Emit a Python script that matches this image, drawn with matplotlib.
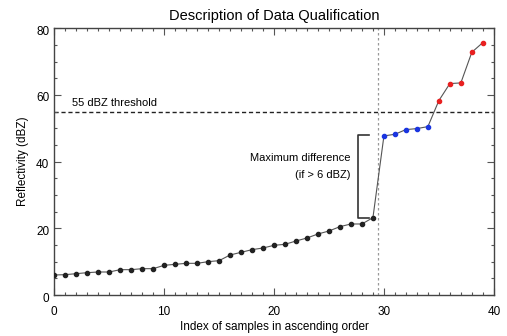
import matplotlib
matplotlib.use("Agg")
import matplotlib.pyplot as plt
import matplotlib.transforms as mtransforms
from matplotlib.ticker import MultipleLocator

plt.rcParams['font.family'] = ['Liberation Sans', 'DejaVu Sans']

# =========================
# data
# =========================
refl = [6.0, 6.1, 6.4, 6.7, 6.9, 6.9, 7.6, 7.6, 7.9, 7.9,
        8.9, 9.2, 9.5, 9.5, 10.0, 10.3, 12.0, 12.8, 13.6, 14.1,
        14.9, 15.2, 16.2, 17.1, 18.3, 19.2, 20.5, 21.3, 21.3, 23.2,
        47.7, 48.2, 49.6, 49.9, 50.5,
        58.3, 63.4, 63.6, 72.8, 75.7]
idx = list(range(len(refl)))
low_idx = idx[:30]
mid_idx = idx[30:35]
high_idx = idx[35:]
threshold = 55
split_x = 29.5
bracket_x = 27.6
bracket_top = 47.9
bracket_bottom = 23.2

# =========================
# plot
# =========================
fig = plt.figure(figsize=(5.07, 3.36), dpi=100)
ax = fig.add_axes([0.107, 0.122, 0.867, 0.794])

ax.plot(idx, refl, color='#555555', lw=0.8, zorder=2)
ax.plot(low_idx, [refl[i] for i in low_idx], 'o', ms=3, color='#222222', zorder=3)
ax.plot(mid_idx, [refl[i] for i in mid_idx], 'o', ms=3, color='#1a35e0', zorder=3)
ax.plot(high_idx, [refl[i] for i in high_idx], 'o', ms=3, color='#e82020', zorder=3)

ax.axhline(threshold, color='#222222', ls=(0, (3, 2)), lw=1.0, zorder=1)
ax.axvline(split_x, color='#999999', ls=(0, (2, 2)), lw=0.9, zorder=1)
ax.text(1.6, threshold + 1.0, '55 dBZ threshold', fontsize=8, va='bottom', ha='left')

# bracket
ax.plot([bracket_x + 1.0, bracket_x, bracket_x, bracket_x + 1.0],
        [bracket_top, bracket_top, bracket_bottom, bracket_bottom],
        color='#333333', lw=1.2)
ax.text(bracket_x - 0.6, 41.0, 'Maximum difference', fontsize=8, ha='right', va='center')
ax.text(bracket_x - 0.6, 36.0, '(if > 6 dBZ)', fontsize=8, ha='right', va='center')

ax.set_xlim(0, 40)
ax.set_ylim(0, 80)
ax.xaxis.set_major_locator(MultipleLocator(10))
ax.xaxis.set_minor_locator(MultipleLocator(1))
ax.yaxis.set_major_locator(MultipleLocator(20))
ax.yaxis.set_minor_locator(MultipleLocator(5))
ax.tick_params(which='both', direction='in', top=True, right=True,
               labelsize=8.5, color='#555555')
ax.tick_params(axis='x', which='major', pad=7.8)
ax.tick_params(axis='y', which='major', pad=3.5)
ax.tick_params(which='major', length=5, width=0.8)
ax.tick_params(which='minor', length=2.5, width=0.8)
for s in ax.spines.values():
    s.set_color('#444444')
    s.set_linewidth(1.0)

# y tick labels sit a little below their ticks
shift = mtransforms.ScaledTranslation(0, -2 / 100, fig.dpi_scale_trans)
for lab in ax.get_yticklabels():
    lab.set_transform(lab.get_transform() + shift)

ax.set_title('Description of Data Qualification', fontsize=10.5, pad=6)
ax.set_xlabel('Index of samples in ascending order', fontsize=8.5, labelpad=2)
ax.set_ylabel('Reflectivity (dBZ)', fontsize=8.5, labelpad=5)

fig.savefig('out.png', dpi=100)
